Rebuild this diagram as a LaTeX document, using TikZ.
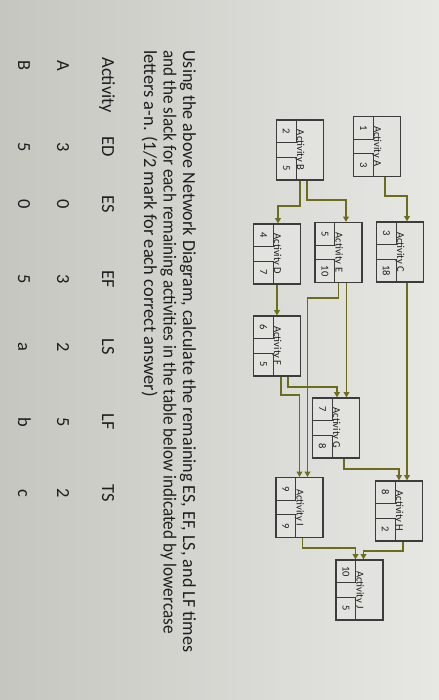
\documentclass[tikz,border=0pt]{standalone}
\usepackage{fontspec}
\setmainfont{Carlito}
\usetikzlibrary{arrows.meta,calc}
\definecolor{paperlight}{RGB}{231,231,228}
\definecolor{paperdark}{RGB}{198,198,192}
\definecolor{boxfill}{RGB}{226,226,222}
\definecolor{linkgreen}{RGB}{108,108,28}
\definecolor{boxline}{RGB}{60,60,60}
\definecolor{ink}{RGB}{30,30,30}

\begin{document}
\begin{tikzpicture}[x=0.02cm, y=0.02cm,
            activity/.style={draw=boxline, line width=0.7pt, fill=boxfill, minimum width=1.2cm, minimum height=0.94cm, inner sep=0pt, font=\fontsize{6}{7}\selectfont, text=ink},
            cell/.style={draw=boxline, line width=0.6pt, minimum width=0.46cm, minimum height=0.4cm, inner sep=0pt, font=\fontsize{6}{7}\selectfont, text=ink},
            link/.style={draw=linkgreen, line width=1.1pt, -{Triangle[length=3pt,width=3.2pt]}},
            txt/.style={anchor=base west, inner sep=0pt, font=\fontsize{10.5}{12}\selectfont, text=ink},
            col/.style={anchor=base, inner sep=0pt, font=\fontsize{10.5}{12}\selectfont, text=ink}
        ]
            \useasboundingbox (0,0) rectangle (439,-700);
            \shade[left color=paperdark, right color=paperlight] (0,0) rectangle (439,-700);

            \begin{scope}[rotate=-90, transform shape]
            % activities
            \node[activity] (a) at (146.5,377) {Activity A};
            \node[activity] (b) at (150,300) {Activity B};
            \node[activity] (c) at (252,400) {Activity C};
            \node[activity] (e) at (252.5,338.5) {Activity E};
            \node[activity] (d) at (254,277) {Activity D};
            \node[activity] (f) at (346,277) {Activity F};
            \node[activity] (g) at (428,336) {Activity G};
            \node[activity] (i) at (507.5,299.5) {Activity I};
            \node[activity] (h) at (511,399) {Activity H};
            \node[activity] (j) at (590,359.5) {Activity J};

            \node[cell, anchor=south west] (a1) at (a.south west) {1};
            \node[cell, anchor=south east] (a2) at (a.south east) {3};
            \node[cell, anchor=south west] (b1) at (b.south west) {2};
            \node[cell, anchor=south east] (b2) at (b.south east) {5};
            \node[cell, anchor=south west] (c1) at (c.south west) {3};
            \node[cell, anchor=south east] (c2) at (c.south east) {18};
            \node[cell, anchor=south west] (d1) at (d.south west) {4};
            \node[cell, anchor=south east] (d2) at (d.south east) {7};
            \node[cell, anchor=south west] (e1) at (e.south west) {5};
            \node[cell, anchor=south east] (e2) at (e.south east) {10};
            \node[cell, anchor=south west] (f1) at (f.south west) {6};
            \node[cell, anchor=south east] (f2) at (f.south east) {5};
            \node[cell, anchor=south west] (g1) at (g.south west) {7};
            \node[cell, anchor=south east] (g2) at (g.south east) {8};
            \node[cell, anchor=south west] (h1) at (h.south west) {8};
            \node[cell, anchor=south east] (h2) at (h.south east) {2};
            \node[cell, anchor=south west] (i1) at (i.south west) {9};
            \node[cell, anchor=south east] (i2) at (i.south east) {9};
            \node[cell, anchor=south west] (j1) at (j.south west) {10};
            \node[cell, anchor=south east] (j2) at (j.south east) {5};

            % links
            \draw[link] ($(a.east)+(0,8)$) -- ++(19,0) |- ($(c.west)+(0,7)$);
            \draw[link] (b.east) -- ++(25,0) |- ($(d.west)+(0,1)$);
            \draw[link] ($(b.east)+(0,7)$) -- ++(19,0) |- ($(e.west)+(0,7.5)$);
            \draw[link] (d) -- (f);
            \coordinate (c-out) at ($(c.east)+(0,7)$);
            \draw[link] (c-out) -- (c-out -| h.west);
            \draw[link] ($(g.east)+(0,8)$) -- ++(10,0) |- (h.west);
            \coordinate (e-out) at ($(e.east)+(0,8)$);
            \draw[link] (e-out) -- (e-out -| g.west);
            \draw[link] (e.east) -- ++(15,0) |- ($(i.west)+(0,8)$);
            \draw[link] ($(f.east)+(0,11)$) -- ++(10,0) |- ($(g.west)+(0,1)$);
            \draw[link] ($(f.east)+(0,4)$) -- ++(18,0) |- (i.west);
            \draw[link] ($(i.east)+(0,3)$) -- ++(10,0) |- ($(j.west)+(0,-4)$);
            \draw[link] ($(h.east)+(0,4)$) -- ++(9,0) |- ($(j.west)+(0,4)$);

            % question
            \node[txt, xscale=0.98] (q1) at (50,183) {Using the above Network Diagram, calculate the remaining ES, EF, LS, and LF times};
            \node[txt, xscale=0.93] (q2) at (50,163.5) {and the slack for each remaining activities in the table below indicated by lowercase};
            \node[txt] (q3) at (50,144) {letters a-n. (1/2 mark for each correct answer)};

            % table
            \node[txt] (t-act) at (57,102) {Activity};
            \node[col] (t-ed) at (147,102) {ED};
            \node[col] (t-es) at (204,102) {ES};
            \node[col] (t-ef) at (279,102) {EF};
            \node[col] (t-ls) at (347,102) {LS};
            \node[col] (t-lf) at (422,102) {LF};
            \node[col] (t-ts) at (493,102) {TS};

            \node[txt] (r-a) at (60,57) {A};
            \node[col] (a-ed) at (147,57) {3};
            \node[col] (a-es) at (204,57) {0};
            \node[col] (a-ef) at (279,57) {3};
            \node[col] (a-ls) at (347,57) {2};
            \node[col] (a-lf) at (422,57) {5};
            \node[col] (a-ts) at (493,57) {2};

            \node[txt] (r-b) at (60,18) {B};
            \node[col] (b-ed) at (147,18) {5};
            \node[col] (b-es) at (204,18) {0};
            \node[col] (b-ef) at (279,18) {5};
            \node[col] (b-ls) at (347,18) {a};
            \node[col] (b-lf) at (422,18) {b};
            \node[col] (b-ts) at (493,18) {c};
            \end{scope}
        \end{tikzpicture}
\end{document}
